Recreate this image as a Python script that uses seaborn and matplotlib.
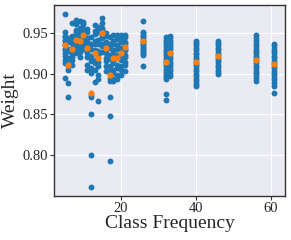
import pandas as pd
import matplotlib
matplotlib.use("Agg")
import matplotlib.pyplot as plt
import seaborn as sns

# class frequency of each column of points
freqs = [5, 6, 7, 8, 9, 10, 11, 12, 13, 14, 15, 16, 17, 18, 19, 20, 21,
         26, 32, 33, 40, 46, 56, 61]

# per-class weights (blue dots)
w05 = [0.974, 0.951, 0.947, 0.945, 0.942, 0.940, 0.937, 0.935, 0.931, 0.929, 0.925, 0.922, 0.917, 0.913, 0.895]
w06 = [0.944, 0.939, 0.931, 0.928, 0.920, 0.917, 0.910, 0.905, 0.889, 0.871]
w07 = [0.963, 0.946, 0.941, 0.938, 0.932, 0.930, 0.924, 0.921, 0.917, 0.911]
w08 = [0.966, 0.961, 0.954, 0.951, 0.946, 0.943, 0.937, 0.934, 0.931, 0.925]
w09 = [0.965, 0.957, 0.953, 0.949, 0.943, 0.940, 0.937, 0.930, 0.927, 0.921]
w10 = [0.964, 0.961, 0.955, 0.952, 0.949, 0.943, 0.941, 0.934, 0.930]
w11 = [0.955, 0.951, 0.944, 0.941, 0.935, 0.932, 0.925, 0.921, 0.911, 0.905]
w12 = [0.945, 0.937, 0.931, 0.922, 0.916, 0.907, 0.901, 0.874, 0.871, 0.851, 0.800, 0.760]
w13 = [0.960, 0.953, 0.949, 0.941, 0.937, 0.929, 0.925, 0.917, 0.913, 0.905, 0.890]
w14 = [0.958, 0.951, 0.942, 0.937, 0.928, 0.923, 0.914, 0.909, 0.899, 0.894, 0.866]
w15 = [0.969, 0.963, 0.957, 0.954, 0.947, 0.944, 0.937, 0.934, 0.927]
w16 = [0.950, 0.946, 0.939, 0.936, 0.929, 0.926, 0.919, 0.916, 0.909, 0.904]
w17 = [0.945, 0.937, 0.932, 0.923, 0.918, 0.909, 0.904, 0.895, 0.891, 0.871, 0.848, 0.792]
w18 = [0.948, 0.941, 0.937, 0.929, 0.925, 0.917, 0.913, 0.905, 0.901, 0.894, 0.891]
w19 = [0.948, 0.943, 0.935, 0.931, 0.923, 0.919, 0.911, 0.907, 0.899, 0.894]
w20 = [0.948, 0.942, 0.939, 0.932, 0.929, 0.921, 0.917, 0.909, 0.905, 0.898]
w21 = [0.948, 0.945, 0.939, 0.937, 0.931, 0.929, 0.923, 0.921, 0.914, 0.911, 0.903]
w26 = [0.965, 0.952, 0.950, 0.947, 0.946, 0.943, 0.941, 0.939, 0.937, 0.935, 0.933,
       0.931, 0.929, 0.927, 0.925, 0.923, 0.910]
w32 = [0.945, 0.942, 0.939, 0.937, 0.934, 0.931, 0.928, 0.926, 0.923, 0.920, 0.917,
       0.915, 0.912, 0.909, 0.906, 0.904, 0.901, 0.898, 0.896, 0.894, 0.875, 0.868]
w33 = [0.947, 0.944, 0.941, 0.938, 0.935, 0.933, 0.930, 0.927, 0.924, 0.921, 0.918,
       0.915, 0.912, 0.909, 0.906, 0.903, 0.900, 0.897]
w40 = [0.941, 0.938, 0.935, 0.932, 0.929, 0.926, 0.924, 0.921, 0.918, 0.915, 0.912,
       0.909, 0.906, 0.903, 0.900, 0.897, 0.894, 0.891, 0.888, 0.885]
w46 = [0.941, 0.938, 0.935, 0.932, 0.929, 0.926, 0.923, 0.920, 0.917, 0.914, 0.911,
       0.908, 0.905, 0.902, 0.900]
w56 = [0.948, 0.944, 0.940, 0.937, 0.934, 0.931, 0.928, 0.925, 0.922, 0.919, 0.916,
       0.913, 0.910, 0.907, 0.904, 0.901, 0.898, 0.895, 0.891]
w61 = [0.937, 0.934, 0.931, 0.928, 0.925, 0.922, 0.919, 0.916, 0.913, 0.910, 0.907,
       0.904, 0.901, 0.898, 0.895, 0.892, 0.889, 0.885, 0.876]

# per-class mean weight (orange dots)
mean_weight = [0.936, 0.911, 0.930, 0.942, 0.940, 0.948, 0.932, 0.876, 0.925, 0.920,
               0.950, 0.932, 0.898, 0.920, 0.919, 0.926, 0.933,
               0.940, 0.915, 0.925, 0.914, 0.922, 0.917, 0.912]

columns = [w05, w06, w07, w08, w09, w10, w11, w12, w13, w14, w15, w16, w17,
           w18, w19, w20, w21, w26, w32, w33, w40, w46, w56, w61]

rows = []
for f, ws in zip(freqs, columns):
    for w in ws:
        rows.append({"freq": f, "weight": w})
df = pd.DataFrame(rows)
means = pd.DataFrame({"freq": freqs, "weight": mean_weight})

sns.set_style("darkgrid")
plt.rcParams["font.family"] = ["Liberation Serif", "DejaVu Serif"]

fig, ax = plt.subplots(figsize=(2.91, 2.40), dpi=100)
fig.subplots_adjust(left=0.186, right=0.979, bottom=0.183, top=0.979)

sns.scatterplot(data=df, x="freq", y="weight", color="#1f77b4", s=18,
                linewidth=0, ax=ax)
sns.scatterplot(data=means, x="freq", y="weight", color="#ff7f0e", s=20,
                linewidth=0, ax=ax, zorder=3)

ax.set_xticks([20, 40, 60])
ax.set_yticks([0.80, 0.85, 0.90, 0.95])
ax.set_yticklabels(["0.80", "0.85", "0.90", "0.95"])
ax.tick_params(axis="both", labelsize=10.5, length=3, width=0.8, color="0.2",
               pad=1.5, left=True, bottom=True)
ax.set_xlabel("Class Frequency", fontsize=14, labelpad=0)
ax.set_ylabel("Weight", fontsize=14, labelpad=2)

for sp in ax.spines.values():
    sp.set_visible(True)
    sp.set_color("0.2")
    sp.set_linewidth(1.0)

fig.savefig("out.png", dpi=100)
